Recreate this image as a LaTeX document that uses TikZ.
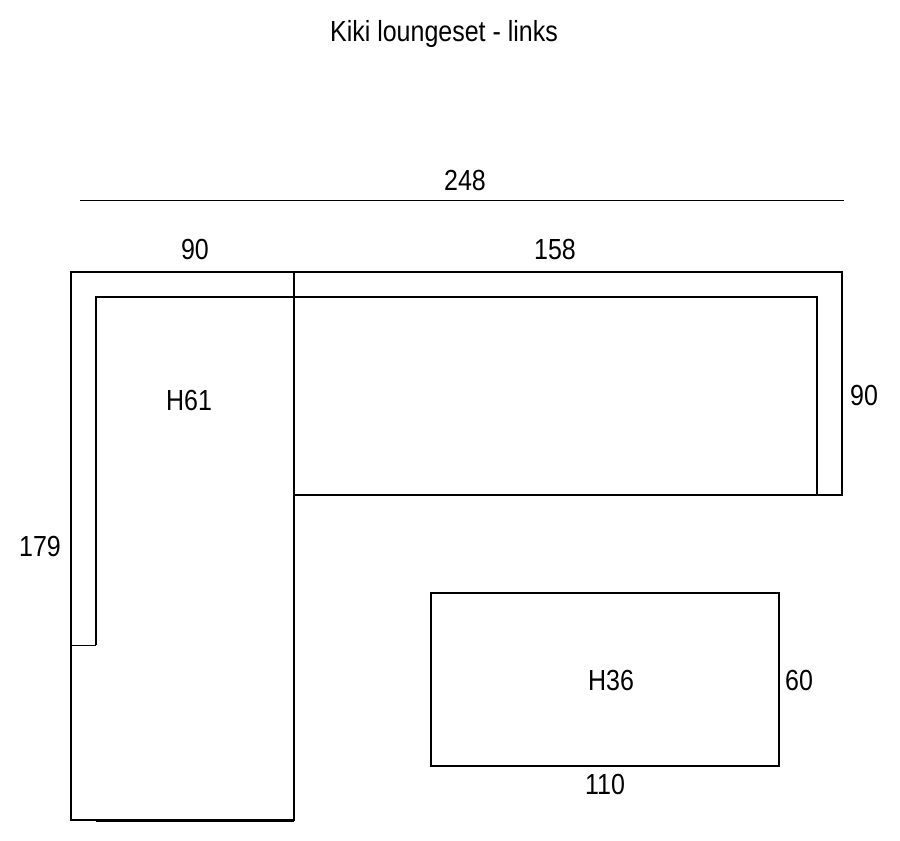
\documentclass[tikz,border=0pt]{standalone}
\usepackage{fontspec}
\setmainfont[FakeStretch=0.86]{Liberation Sans}
\usepackage{tikz}
\usetikzlibrary{positioning}

\begin{document}
\begin{tikzpicture}[x=0.03cm, y=-0.03cm,
    outline/.style = {draw=black, line width=1.8pt, line join=miter},
    thinline/.style = {draw=black, line width=0.8pt},
    maat/.style = {font=\fontsize{24.8}{28}\selectfont, inner sep=0pt, text=black}]

  \useasboundingbox (0,0) rectangle (900,840);

  % hoekbank
  \draw [outline] (294,272) -- (71,272) -- (71,820) -- (294,820) -- cycle;
  \draw [outline] (294,272) -- (842,272) -- (842,495) -- (294,495);
  \draw [outline] (294,297) -- (96,297) -- (96,645);
  \draw [thinline] (71,645) -- (96,645);
  \draw [outline] (294,297) -- (817,297) -- (817,495);
  \draw [draw=black, line width=2.4pt] (96,820.5) -- (294,820.5);

  % tafel
  \draw [outline] (431,593) rectangle (779,766);

  % totale maat
  \draw [thinline] (80,200.5) -- (844,200.5);

  \node [maat] (titel) at (444,34) {Kiki loungeset - links};
  \node [maat] (totaal) at (465,180) {248};
  \node [maat] (diepte) at (195,249) {90};
  \node [maat] (lengte) at (555,249) {158};
  \node [maat] (rechts) at (864,395) {90};
  \node [maat] (links) at (40,546) {179};
  \node [maat] (hoog) at (189,400) {H61};
  \node [maat] (laag) at (611,680) {H36};
  \node [maat] (tafeld) at (799,680) {60};
  \node [maat] (tafelb) at (605,784) {110};
\end{tikzpicture}
\end{document}
